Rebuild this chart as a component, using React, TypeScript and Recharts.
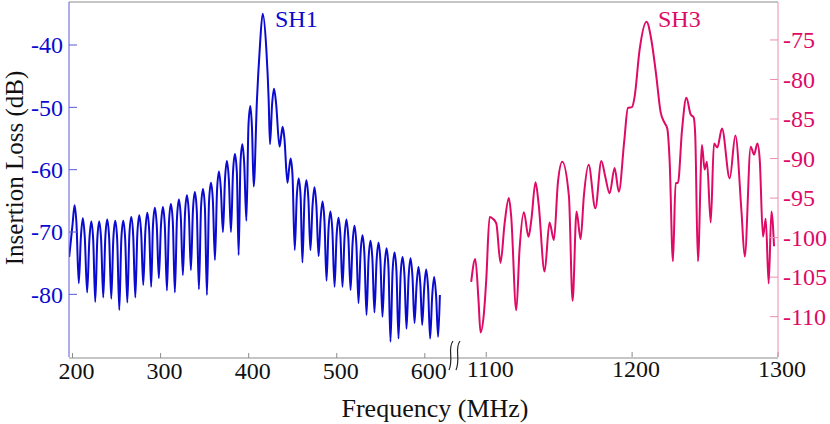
import { LineChart, Line, XAxis, YAxis } from 'recharts';

// SH1 response (left axis), frequency in MHz / insertion loss in dB
const sh1Freq = [
  196.2, 200.1, 202.3, 204.5, 207.1, 209.5, 211.7, 213.9, 216.6, 219.1, 221.3, 223.5,
  225.8, 228.1, 230.3, 232.5, 234.9, 237.2, 239.4, 241.6, 244.0, 246.3, 248.5, 250.7,
  253.1, 255.4, 257.6, 259.8, 262.2, 264.5, 266.7, 268.9, 271.3, 273.6, 275.8, 278.0,
  280.3, 282.7, 284.9, 287.1, 289.3, 291.3, 293.5, 295.7, 298.0, 300.4, 302.6, 304.8,
  307.2, 309.5, 311.7, 313.9, 316.2, 318.6, 320.8, 323.0, 325.3, 327.7, 329.9, 332.1,
  334.4, 336.7, 338.9, 341.1, 343.5, 345.9, 348.1, 350.3, 352.6, 355.0, 357.2, 359.4,
  361.7, 364.1, 366.3, 368.5, 370.8, 373.1, 375.3, 377.5, 379.9, 382.2, 384.4, 386.6,
  388.6, 390.7, 392.8, 394.9, 397.4, 399.8, 401.9, 403.8, 405.7,
  409.4, 412.5, 415.9, 420.1, 422.7, 424.2,
  426.6, 428.8, 431.2, 435.0, 437.0, 438.6, 440.6, 444.0, 445.8, 447.7, 449.8, 452.3,
  454.6, 456.8, 459.0, 461.0, 463.4, 465.6, 467.8, 470.1, 472.5, 474.7, 476.9, 479.4,
  481.6, 483.8, 486.0, 488.4, 490.6, 492.8, 495.0, 497.5, 499.8, 502.0, 504.2, 506.5,
  508.8, 511.0, 513.2, 515.7, 517.9, 520.1, 522.3, 524.7, 527.0, 529.2, 531.4, 533.8,
  536.1, 538.3, 540.5, 542.8, 545.2, 547.4, 549.6, 551.9, 554.3, 556.5, 558.7, 561.0,
  563.4, 565.6, 567.8, 570.1, 572.5, 574.7, 576.9, 579.2, 581.6, 583.8, 586.0, 588.3,
  590.6, 592.8, 595.0, 597.0, 599.3, 601.5, 603.7, 606.0, 608.4, 610.6, 612.8, 615.1,
  617.1,
];
const sh1Loss = [
  -74.0, -68.7, -65.7, -68.7, -78.2, -70.8, -67.8, -70.8, -79.7, -71.3, -68.3, -71.3,
  -81.2, -71.3, -68.3, -71.3, -80.5, -71.0, -68.0, -71.0, -80.7, -71.2, -68.2, -71.2,
  -82.5, -71.2, -68.2, -71.2, -81.3, -70.6, -67.6, -70.6, -80.5, -70.3, -67.3, -70.3,
  -78.5, -69.9, -66.9, -69.9, -78.8, -69.1, -66.1, -69.1, -77.4, -69.0, -66.0, -69.0,
  -79.4, -68.5, -65.5, -68.5, -79.7, -67.8, -64.8, -67.8, -76.9, -67.1, -64.1, -67.1,
  -76.1, -66.6, -63.6, -66.6, -79.2, -66.1, -63.1, -66.1, -80.1, -65.1, -62.1, -65.1,
  -74.5, -63.3, -60.3, -63.3, -70.0, -61.6, -58.6, -61.6, -70.0, -60.5, -57.5, -60.5,
  -73.7, -58.9, -55.9, -58.9, -68.2, -52.8, -49.8, -53.5, -62.7,
  -48.8, -40.8, -35.0, -40.8, -48.8, -55.9,
  -49.5, -47.0, -49.5, -56.3, -54.5, -53.1, -55.0, -62.1, -60.0, -58.2, -61.0, -72.9,
  -64.4, -61.4, -64.4, -74.9, -64.7, -61.7, -64.7, -72.9, -65.8, -62.8, -65.8, -73.9,
  -68.1, -65.1, -68.1, -77.8, -69.7, -66.7, -69.7, -78.8, -70.7, -67.7, -70.7, -78.8,
  -71.0, -68.0, -71.0, -79.3, -72.0, -69.0, -72.0, -81.4, -73.5, -70.5, -73.5, -83.3,
  -74.4, -71.4, -74.4, -82.9, -74.7, -71.7, -74.7, -83.6, -75.6, -72.6, -75.6, -87.6,
  -76.3, -73.3, -76.3, -87.1, -77.0, -74.0, -77.0, -85.5, -77.2, -74.2, -77.2, -84.6,
  -78.6, -75.6, -78.6, -84.9, -79.0, -76.0, -79.0, -87.1, -80.2, -77.2, -80.2, -86.8,
  -80.1,
];

// SH3 response (right axis)
const sh3Freq = [
  1089.7, 1092.5, 1094.7, 1096.1, 1098.4, 1100.0, 1102.3, 1104.5, 1106.9, 1109.8,
  1112.6, 1115.5, 1117.1, 1120.6, 1122.8, 1125.8, 1129.0, 1130.9, 1133.8, 1135.9,
  1140.0, 1143.4, 1146.4, 1149.1, 1152.1, 1156.7, 1159.2, 1161.9, 1164.7, 1166.9,
  1170.2, 1174.8, 1178.9, 1181.6, 1184.6, 1188.0, 1190.9, 1194.6, 1197.1, 1199.9,
  1201.7, 1205.1, 1209.9, 1213.2, 1216.6, 1219.5, 1222.3, 1224.1, 1225.7, 1228.0,
  1229.8, 1231.4, 1234.2, 1237.2, 1240.1, 1242.2, 1243.3, 1245.1, 1247.9, 1249.7,
  1251.3, 1253.9, 1256.1, 1258.4, 1261.6, 1266.9, 1270.8, 1274.9, 1277.2, 1281.3,
  1283.6, 1285.9, 1287.5, 1289.7, 1291.6, 1293.6, 1295.5, 1297.3,
];
const sh3Loss = [
  -105.6, -102.7, -107.9, -112.0, -109.6, -105.4, -97.4, -97.6, -98.2, -103.2,
  -98.2, -95.0, -97.3, -109.2, -101.6, -96.8, -99.9, -97.8, -93.0, -95.7,
  -104.3, -98.1, -100.3, -93.1, -90.4, -94.8, -108.0, -96.7, -100.2, -94.8,
  -90.8, -96.3, -90.3, -92.3, -94.4, -91.2, -94.2, -87.8, -83.6, -83.5,
  -82.2, -76.3, -72.7, -75.0, -79.6, -84.1, -85.5, -86.2, -90.2, -103.0,
  -93.1, -93.1, -86.4, -82.3, -84.4, -84.8, -87.2, -103.0, -88.3, -91.4,
  -90.4, -98.1, -88.1, -88.6, -86.2, -92.5, -87.1, -96.5, -102.4, -88.5,
  -89.5, -88.1, -90.2, -99.9, -97.6, -105.8, -96.7, -101.1,
];

const lowTicks = [200, 300, 400, 500, 600];
const highTicks = [1100, 1200, 1300];
const sh1Ticks = [-40, -50, -60, -70, -80];
const sh3Ticks = [-75, -80, -85, -90, -95, -100, -105, -110];
const topTicks = [1, 2, 3, 4, 5];

const sh1Data = sh1Freq.map((f, i) => ({ f, loss: sh1Loss[i] }));
const sh3Data = sh3Freq.map((f, i) => ({ f, loss: sh3Loss[i] }));

const FONT = '"Liberation Serif", "Times New Roman", serif';
const BLUE = '#0a0ad0';
const RED = '#de0a66';
const GRAY = '#8c8c8c';

// tick label renderers so the serif font is used
const xTick = (props: any) => (
  <text
    x={props.x + 4}
    y={props.y}
    dy="0.71em"
    textAnchor="middle"
    fontFamily={FONT}
    fontSize={24}
    fill="#111"
  >
    {props.payload.value}
  </text>
);

const yTick = (color: string, anchor: 'start' | 'end') => (props: any) => (
  <text
    x={props.x}
    y={props.y}
    dy="0.34em"
    textAnchor={anchor}
    fontFamily={FONT}
    fontSize={24}
    fill={color}
  >
    {props.payload.value}
  </text>
);

function BreakMark({ x }: { x: number }) {
  return (
    <path
      d={`M ${x + 3} 341 C ${x - 3} 349, ${x + 4} 358, ${x - 1} 370`}
      fill="none"
      stroke="#222"
      strokeWidth={1.2}
    />
  );
}

export default function App() {
  return (
    <div
      style={{
        position: 'absolute',
        left: 0,
        top: 0,
        width: 830,
        height: 424,
        background: '#fff',
        fontFamily: FONT,
      }}
    >
      <LineChart width={830} height={424} margin={{ top: 1, right: 0, bottom: 65, left: 0 }}>
        <XAxis
          xAxisId="top"
          orientation="top"
          type="number"
          domain={[0, 6]}
          ticks={topTicks}
          height={1}
          tick={false}
          tickSize={-5}
          stroke={GRAY}
        />
        <XAxis
          xAxisId="lo"
          dataKey="f"
          type="number"
          domain={[196, 1001]}
          ticks={lowTicks}
          interval={0}
          height={1}
          tickSize={-5}
          tickMargin={9}
          stroke={GRAY}
          allowDataOverflow
          tick={xTick}
        />
        <XAxis
          xAxisId="hi"
          dataKey="f"
          type="number"
          domain={[814, 1300]}
          ticks={highTicks}
          interval={0}
          height={1}
          tickSize={-5}
          tickMargin={8}
          stroke={GRAY}
          axisLine={false}
          allowDataOverflow
          tick={xTick}
        />
        <YAxis
          yAxisId="l"
          width={69}
          type="number"
          domain={[-90.05, -33.1]}
          ticks={sh1Ticks}
          interval={0}
          tickSize={-8}
          tickMargin={14}
          stroke="#5a5ad8"
          allowDataOverflow
          tick={yTick(BLUE, 'end')}
        />
        <YAxis
          yAxisId="r"
          orientation="right"
          width={52}
          type="number"
          domain={[-115.1, -70.2]}
          ticks={sh3Ticks}
          interval={0}
          tickSize={-8}
          tickMargin={13}
          stroke="#f08cb2"
          allowDataOverflow
          tick={yTick(RED, 'start')}
        />
        <Line
          xAxisId="lo"
          yAxisId="l"
          data={sh1Data}
          dataKey="loss"
          type="monotone"
          stroke={BLUE}
          strokeWidth={2}
          dot={false}
          isAnimationActive={false}
        />
        <Line
          xAxisId="hi"
          yAxisId="r"
          data={sh3Data}
          dataKey="loss"
          type="monotone"
          stroke={RED}
          strokeWidth={2}
          dot={false}
          isAnimationActive={false}
        />
      </LineChart>
      <svg
        width={830}
        height={424}
        style={{ position: 'absolute', left: 0, top: 0, pointerEvents: 'none' }}
        fontFamily={FONT}
      >
        <text transform="translate(22.5,168) rotate(-90)" textAnchor="middle" fontSize={25} fill="#111">
          Insertion Loss (dB)
        </text>
        <text x={435} y={417} textAnchor="middle" fontSize={26} fill="#111">
          Frequency (MHz)
        </text>
        <text x={275} y={27} fontSize={24} fill={BLUE}>SH1</text>
        <text x={658} y={27} fontSize={24} fill={RED}>SH3</text>
        <BreakMark x={450} />
        <BreakMark x={457} />
      </svg>
    </div>
  );
}
